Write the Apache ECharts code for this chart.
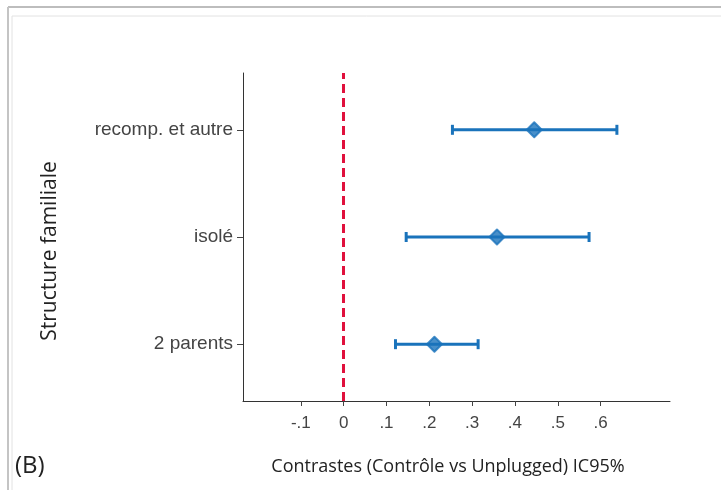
<!DOCTYPE html>
<html>
<head>
<meta charset="utf-8">
<script src="https://cdn.jsdelivr.net/npm/echarts@6/dist/echarts.min.js"></script>
<style>html,body{margin:0;padding:0;background:#fff;}#c{width:721px;height:490px;}</style>
</head>
<body>
<div id="c"></div>
<script>
var categories = ['2 parents', 'isolé', 'recomp. et autre'];
var estimates = [0.212, 0.358, 0.445];
var lower = [0.121, 0.146, 0.254];
var upper = [0.314, 0.573, 0.638];
var xTicks = [-0.1, 0, 0.1, 0.2, 0.3, 0.4, 0.5, 0.6];
var xTickLabels = ['-.1', '0', '.1', '.2', '.3', '.4', '.5', '.6'];

var blue = '#1a73bb';
var chart = echarts.init(document.getElementById('c'), null, {renderer: 'canvas'});

var ciData = categories.map(function (c, i) { return [lower[i], upper[i], i + 1]; });
var ptData = categories.map(function (c, i) { return [estimates[i], i + 1]; });

var option = {
  animation: false,
  backgroundColor: '#fff',
  grid: {left: 243, right: 51, top: 73, bottom: 89, containLabel: false},
  xAxis: {
    type: 'value', min: -0.235, max: 0.762,
    axisLine: {show: true, onZero: false, lineStyle: {color: '#333', width: 1}},
    axisTick: {show: true, length: 5, lineStyle: {color: '#444'}, customValues: xTicks},
    axisLabel: {customValues: xTicks, color: '#444', fontSize: 17, fontFamily: 'Liberation Sans', margin: 14,
      formatter: function (v) { var i = xTicks.findIndex(function (t) { return Math.abs(t - v) < 1e-6; }); return i >= 0 ? xTickLabels[i] : ''; }},
    splitLine: {show: false}
  },
  yAxis: {
    type: 'value', min: 0.47, max: 3.53,
    axisLine: {show: true, onZero: false, lineStyle: {color: '#333', width: 1}},
    axisTick: {show: true, length: 6, lineStyle: {color: '#444'}, customValues: [1, 2, 3]},
    axisLabel: {customValues: [1, 2, 3], color: '#444', fontSize: 19, fontFamily: 'Liberation Sans', margin: 10,
      formatter: function (v) { return categories[Math.round(v) - 1] || ''; }},
    splitLine: {show: false}
  },
  graphic: [
    {type: 'line', shape: {x1: 8, y1: 7, x2: 721, y2: 7}, style: {stroke: '#bdbdbd', lineWidth: 2}},
    {type: 'line', shape: {x1: 8, y1: 7, x2: 8, y2: 490}, style: {stroke: '#c4c4c4', lineWidth: 2}},
    {type: 'line', shape: {x1: 12, y1: 16, x2: 721, y2: 16}, style: {stroke: '#e2e2e2', lineWidth: 1}},
    {type: 'line', shape: {x1: 12, y1: 16, x2: 12, y2: 490}, style: {stroke: '#e2e2e2', lineWidth: 1}},
    {type: 'text', x: 15, y: 466, style: {text: '(B)', font: '24px "Open Sans"', fill: '#222', textVerticalAlign: 'middle'}},
    {type: 'text', x: 448, y: 467, style: {text: 'Contrastes (Contrôle vs Unplugged) IC95%', font: '18px "Open Sans"', fill: '#222', textAlign: 'center', textVerticalAlign: 'middle'}},
    {type: 'text', x: 50, y: 251, rotation: Math.PI / 2, style: {text: 'Structure familiale', font: '21px "Open Sans"', fill: '#222', textAlign: 'center', textVerticalAlign: 'middle'}}
  ],
  series: [
    {
      type: 'custom',
      data: ciData,
      encode: {x: [0, 1], y: 2},
      renderItem: function (params, api) {
        var a = api.coord([api.value(0), api.value(2)]);
        var b = api.coord([api.value(1), api.value(2)]);
        var h = 5;
        var st = {stroke: blue, lineWidth: 3};
        return {type: 'group', children: [
          {type: 'line', shape: {x1: a[0], y1: a[1], x2: b[0], y2: b[1]}, style: st},
          {type: 'line', shape: {x1: a[0], y1: a[1] - h, x2: a[0], y2: a[1] + h}, style: st},
          {type: 'line', shape: {x1: b[0], y1: b[1] - h, x2: b[0], y2: b[1] + h}, style: st}
        ]};
      },
      z: 3
    },
    {
      type: 'scatter',
      data: ptData,
      symbol: 'diamond',
      symbolSize: 15,
      itemStyle: {color: blue, borderColor: blue, borderWidth: 2, borderJoin: 'round'},
      z: 4,
      markLine: {
        silent: true, symbol: 'none', label: {show: false},
        lineStyle: {color: '#e0103c', width: 3, type: [9, 5]},
        data: [{xAxis: 0}]
      }
    }
  ]
};
chart.setOption(option);
</script>
</body>
</html>
